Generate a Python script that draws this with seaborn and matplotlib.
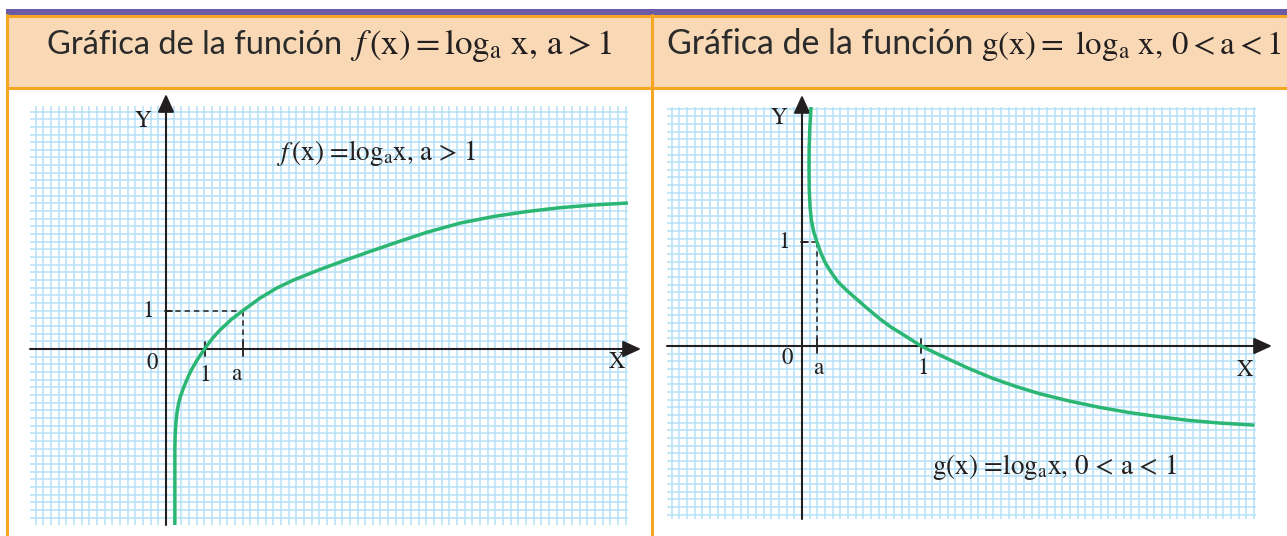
import numpy as np
import pandas as pd
import seaborn as sns
import matplotlib.pyplot as plt
from matplotlib.lines import Line2D
from matplotlib.patches import Rectangle

# points, f(x) = log_a x with a > 1
f_x = [0.23, 0.23, 0.24, 0.26, 0.29, 0.33, 0.38, 0.45, 0.55, 0.65, 0.80, 1.0, 1.2, 1.4, 1.7,
       2.0, 2.44, 2.87, 3.31, 3.96, 4.61, 5.26, 5.90, 6.77, 7.64, 8.50, 9.37, 10.23, 11.10, 11.97]
f_y = [-4.57, -2.60, -2.20, -1.88, -1.62, -1.40, -1.22, -1.02, -0.78, -0.56, -0.30, 0.0, 0.27,
       0.49, 0.77, 1.0, 1.32, 1.58, 1.79, 2.05, 2.29, 2.52, 2.74, 3.03, 3.27, 3.44, 3.57, 3.67,
       3.74, 3.79]
a_left = 2.0

# points, g(x) = log_a x with 0 < a < 1
g_x = [0.076, 0.066, 0.060, 0.059, 0.061, 0.068, 0.080, 0.100, 0.126, 0.16, 0.20, 0.25, 0.30,
       0.38, 0.46, 0.55, 0.655, 0.75, 0.85, 1.0, 1.2, 1.4, 1.6, 1.8, 2.0, 2.25, 2.5, 2.75, 3.0,
       3.25, 3.5, 3.79]
g_y = [2.30, 2.10, 1.90, 1.70, 1.50, 1.33, 1.20, 1.09, 1.0, 0.89, 0.79, 0.70, 0.62, 0.53,
       0.45, 0.36, 0.26, 0.18, 0.11, 0.0, -0.11, -0.215, -0.31, -0.39, -0.46, -0.53, -0.59,
       -0.64, -0.68, -0.715, -0.74, -0.76]
a_right = 0.126

headers = ["Gráfica de la función", "Gráfica de la función"]
header_math = [r"$f\,(\mathrm{x}) = \mathrm{log}_{\mathrm{a}}\ \mathrm{x},\, \mathrm{a} > 1$",
               r"$\mathrm{g}(\mathrm{x}){=}\ \mathrm{log}_{\mathrm{a}}\ \mathrm{x},\, 0 < \mathrm{a} < 1$"]
inner_labels = [r"$f\,(\mathrm{x})$ =log$_{\mathrm{a}}$x, a > 1",
                r"g(x) =log$_{\mathrm{a}}$x, 0 < a < 1"]

sns.set_style("white")
plt.rcParams['mathtext.fontset'] = 'stix'
plt.rcParams['font.family'] = ['DejaVu Sans']

W, H = 1287, 536
fig = plt.figure(figsize=(W / 100, H / 100), dpi=100)

ink = '#231f20'
green = '#2bb673'
orange = '#f6a623'
gridc = '#b4e0f5'
serif = 'STIXGeneral'


def fx(px):
    return px / W


def fy(py):
    return 1 - py / H


# table frame
fig.add_artist(Rectangle((fx(7), fy(88)), fx(1287 - 7), fy(15) - fy(88),
                         transform=fig.transFigure, facecolor='#f8d8b5', edgecolor='none'))
fig.add_artist(Rectangle((fx(6), fy(14.5)), fx(1287 - 6), fy(9.5) - fy(14.5),
                         transform=fig.transFigure, facecolor='#6b5ba6', edgecolor='none'))
for (x0, y0, x1, y1) in [(7, 15.5, 1287, 15.5), (7, 88, 1287, 88),
                         (7, 15, 7, 536), (652, 15, 652, 536)]:
    fig.add_artist(Line2D([fx(x0), fx(x1)], [fy(y0), fy(y1)], transform=fig.transFigure,
                          color=orange, lw=2.2))


def fit_text(x0, width, s, size, color=ink, **kw):
    t = fig.text(fx(x0), fy(54), s, fontsize=size, color=color, va='baseline', **kw)
    fig.canvas.draw()
    w = t.get_window_extent().width
    t.set_fontsize(size * width / w)
    fig.canvas.draw()
    return t


# header texts: sans part, then the formula right after it
for x0, w_txt, w_math, txt, mth in zip([47, 667], [295, 306], [262, 300], headers, header_math):
    t = fit_text(x0, w_txt, txt, 18, color='#2b2b2b', family='Lato')
    x1 = t.get_window_extent().x1
    fit_text(x1 + 8, w_math, mth, 20)


def panel(box, origin, unit, curve_x, curve_y, a, label, label_pos, label_w, tip_x, tip_y, txts):
    x0, y0, x1, y1 = box
    ox, oy = origin
    ux, uy = unit
    ax = fig.add_axes([fx(x0), fy(y1), fx(x1 - x0), fy(y0) - fy(y1)])
    xlim = ((x0 - ox) / ux, (x1 - ox) / ux)
    ylim = ((oy - y1) / uy, (oy - y0) / uy)
    ax.set_xlim(*xlim)
    ax.set_ylim(*ylim)
    cx = 7.66 / ux
    cy = 7.66 / uy
    ax.set_xticks([])
    ax.set_yticks([])
    ax.set_xticks(np.arange(np.ceil(xlim[0] / cx), np.floor(xlim[1] / cx) + 1) * cx, minor=True)
    ax.set_yticks(np.arange(np.ceil(ylim[0] / cy), np.floor(ylim[1] / cy) + 1) * cy, minor=True)
    ax.grid(which='minor', color=gridc, lw=1.1)
    ax.tick_params(which='both', length=0, labelbottom=False, labelleft=False)
    for s in ax.spines.values():
        s.set_visible(False)

    arrow = dict(arrowstyle='-|>,head_length=0.55,head_width=0.25', color=ink, lw=1.5,
                 mutation_scale=20, shrinkA=0, shrinkB=0)
    ax.annotate('', xy=(tip_x, 0), xytext=(xlim[0], 0), arrowprops=arrow, annotation_clip=False)
    ax.annotate('', xy=(0, tip_y), xytext=(0, ylim[0]), arrowprops=arrow, annotation_clip=False)

    df = pd.DataFrame({'x': curve_x, 'y': curve_y})
    sns.lineplot(data=df, x='x', y='y', sort=False, estimator=None, color=green, lw=2.5, ax=ax,
                 zorder=5)
    ax.set_xlabel('')
    ax.set_ylabel('')

    # guide lines to (a, 1)
    ax.plot([a, a], [1, 0], color=ink, lw=1.1, ls=(0, (3.5, 2.6)), zorder=4)
    ax.plot([0, a], [1, 1], color=ink, lw=1.1, ls=(0, (3.5, 2.6)), zorder=4)
    ty = 7 / uy
    tx = 6 / ux
    for xt in [1, a]:
        ax.plot([xt, xt], [-ty, ty], color=ink, lw=1.3, zorder=4)
    ax.plot([-1 / ux, tx], [1, 1], color=ink, lw=1.3, zorder=4)

    for (s, px, py) in txts:
        ax.text((px - ox) / ux, (oy - py) / uy, s, family=serif, fontsize=16.5, color=ink,
                ha='center', va='center', clip_on=False)
    t = ax.text((label_pos[0] - ox) / ux, (oy - label_pos[1]) / uy, label, family=serif,
                fontsize=18, color=ink, ha='left', va='center', zorder=6)
    fig.canvas.draw()
    t.set_fontsize(18 * label_w / t.get_window_extent().width)
    return ax


panel((30, 106, 628, 525), (166, 349), (38.5, 38.5), f_x, f_y, a_left, inner_labels[0],
      (277, 153), 200, (641 - 166) / 38.5, (349 - 94) / 38.5,
      [('Y', 143, 121), ('X', 617, 362), ('0', 152, 363),
       ('1', 205, 375), ('a', 236, 374), ('1', 148, 311)])

panel((667, 107, 1256, 519), (802, 346), (119, 104), g_x, g_y, a_right, inner_labels[1],
      (932, 467), 245, (1272 - 802) / 119, (346 - 95) / 104,
      [('Y', 779, 118), ('X', 1245, 370), ('0', 787, 358),
       ('a', 818, 368), ('1', 923, 368), ('1', 784, 242)])

fig.savefig('out.png', dpi=100)
